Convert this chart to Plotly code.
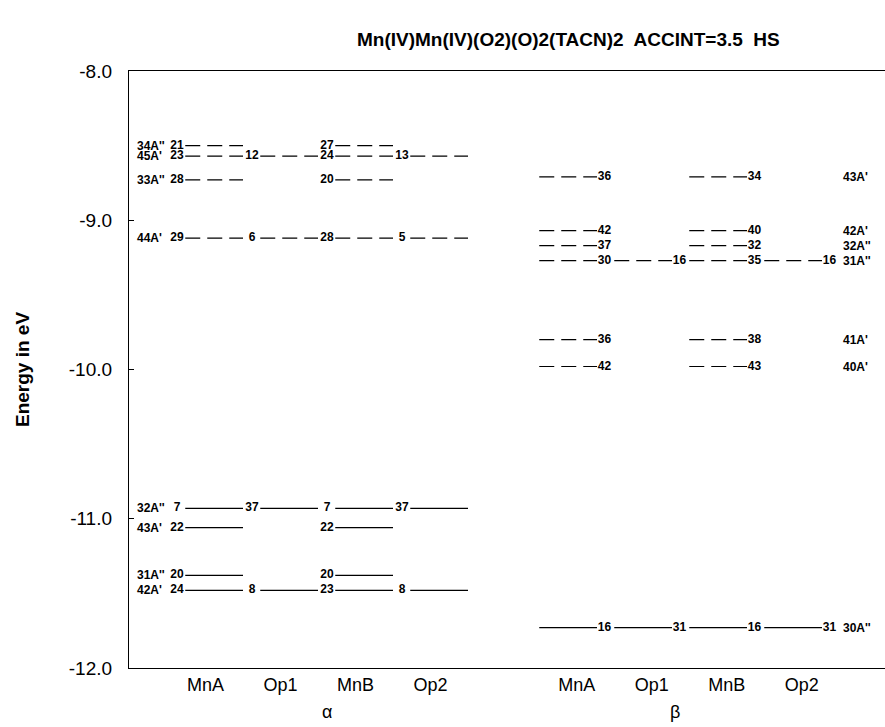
import plotly.graph_objects as go

# ---------------- data ----------------
title_text = "Mn(IV)Mn(IV)(O2)(O)2(TACN)2  ACCINT=3.5  HS"
columns = ["MnA", "Op1", "MnB", "Op2"]

alpha_sym = ["34A''", "45A'", "33A''", "44A'", "32A''", "43A'", "31A''", "42A'"]
alpha_energy = [-8.50, -8.57, -8.73, -9.12, -10.93, -11.06, -11.38, -11.48]
alpha_MnA = [21, 23, 28, 29, 7, 22, 20, 24]
alpha_Op1 = [None, 12, None, 6, 37, None, None, 8]
alpha_MnB = [27, 24, 20, 28, 7, 22, 20, 23]
alpha_Op2 = [None, 13, None, 5, 37, None, None, 8]
alpha_occupied = [False, False, False, False, True, True, True, True]

beta_sym = ["43A'", "42A'", "32A''", "31A''", "41A'", "40A'", "30A''"]
beta_energy = [-8.71, -9.07, -9.17, -9.27, -9.80, -9.98, -11.73]
beta_MnA = [36, 42, 37, 30, 36, 42, 16]
beta_Op1 = [None, None, None, 16, None, None, 31]
beta_MnB = [34, 40, 32, 35, 38, 43, 16]
beta_Op2 = [None, None, None, 16, None, None, 31]
beta_occupied = [False, False, False, False, False, False, True]

y_ticks = [-12.0, -11.0, -10.0, -9.0, -8.0]

# ---------------- layout helpers ----------------
ALPHA_START = 0.0
BETA_START = 4.95
FONT = "Liberation Sans, Arial, Helvetica, sans-serif"

fig = go.Figure()


def add_block(start, energies, cols, occupied, number_side):
    seg = {True: ([], []), False: ([], [])}
    num_x, num_y, num_t = [], [], []
    for i, e in enumerate(energies):
        for k, vals in enumerate(cols):
            v = vals[i]
            if v is None:
                continue
            c0 = start + k
            if number_side == "left":
                x0, x1, xn = c0 + 0.23, c0 + 1.0, c0 + 0.12
            else:
                x0, x1, xn = c0 + 0.0, c0 + 0.77, c0 + 0.87
            xs, ys = seg[occupied[i]]
            xs += [x0, x1, None]
            ys += [e, e, None]
            num_x.append(xn)
            num_y.append(e)
            num_t.append(str(v))
    for occ, (xs, ys) in seg.items():
        if xs:
            fig.add_trace(go.Scatter(
                x=xs, y=ys, mode="lines", hoverinfo="skip", showlegend=False,
                line=dict(color="black", width=1.2,
                          dash="solid" if occ else "15px,7px")))
    fig.add_trace(go.Scatter(
        x=num_x, y=num_y, text=num_t, mode="text", textposition="middle center",
        textfont=dict(family=FONT, size=12, color="black", weight="bold"),
        hoverinfo="skip", showlegend=False))


add_block(ALPHA_START, alpha_energy, [alpha_MnA, alpha_Op1, alpha_MnB, alpha_Op2],
          alpha_occupied, "left")
add_block(BETA_START, beta_energy, [beta_MnA, beta_Op1, beta_MnB, beta_Op2],
          beta_occupied, "right")

annotations = []
for s, e in zip(alpha_sym, alpha_energy):
    annotations.append(dict(x=ALPHA_START - 0.43, y=e, xref="x", yref="y", text=s,
                            showarrow=False, xanchor="left", yanchor="middle",
                            borderpad=0,
                            font=dict(family=FONT, size=12, color="black", weight="bold")))
for s, e in zip(beta_sym, beta_energy):
    annotations.append(dict(x=BETA_START + 4.03, y=e, xref="x", yref="y", text=s,
                            showarrow=False, xanchor="left", yanchor="middle",
                            borderpad=0,
                            font=dict(family=FONT, size=12, color="black", weight="bold")))

annotations.append(dict(x=ALPHA_START + 2.12, y=-0.074, xref="x", yref="paper", text="α",
                        showarrow=False, xanchor="center", yanchor="middle",
                        font=dict(family=FONT, size=18, color="black")))
annotations.append(dict(x=BETA_START + 1.81, y=-0.074, xref="x", yref="paper", text="β",
                        showarrow=False, xanchor="center", yanchor="middle",
                        font=dict(family=FONT, size=18, color="black")))
annotations.append(dict(x=0.582, y=1.052, xref="paper", yref="paper", text=title_text,
                        showarrow=False, xanchor="center", yanchor="middle",
                        font=dict(family=FONT, size=19, color="black", weight="bold")))

tick_x = [ALPHA_START + k + 0.5 for k in range(4)] + [BETA_START + k + 0.5 for k in range(4)]
tick_t = columns + columns

fig.update_layout(
    width=885, height=727,
    margin=dict(l=129, r=0, t=71, b=59),
    paper_bgcolor="white", plot_bgcolor="white",
    annotations=annotations,
    xaxis=dict(range=[-0.52, 9.56], showgrid=False, zeroline=False,
               showline=True, linecolor="black", linewidth=1.3, mirror=True,
               tickvals=tick_x, ticktext=tick_t, ticks="",
               tickfont=dict(family=FONT, size=18, color="black")),
    yaxis=dict(range=[-12, -8], showgrid=False, zeroline=False,
               showline=True, linecolor="black", linewidth=1.3,
               tickvals=y_ticks, ticktext=[f"{v:.1f}" for v in y_ticks],
               ticks="inside", ticklen=5, tickcolor="black", ticklabelstandoff=12,
               tickfont=dict(family=FONT, size=19, color="black"),
               title=dict(text="<b>Energy in eV</b>", standoff=34,
                          font=dict(family=FONT, size=19, color="black"))),
)

fig.write_html("out.html")
